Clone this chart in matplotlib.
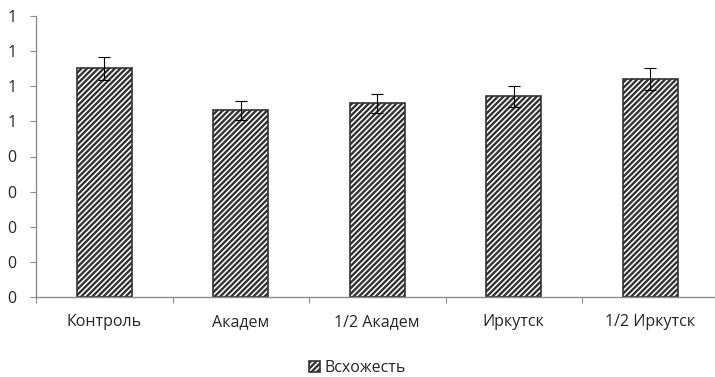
import numpy as np
import matplotlib
matplotlib.use("Agg")
import matplotlib.pyplot as plt

categories = ["Контроль", "Академ", "1/2 Академ", "Иркутск", "1/2 Иркутск"]
values = [0.651, 0.531, 0.551, 0.571, 0.621]
errors = [0.033, 0.027, 0.028, 0.029, 0.031]
yticks = [0.0, 0.1, 0.2, 0.3, 0.4, 0.5, 0.6, 0.7, 0.8]
ytick_labels = ["0", "0", "0", "0", "0", "1", "1", "1", "1"]
series_name = "Всхожесть"

plt.rcParams["font.family"] = ["Open Sans", "DejaVu Sans"]
plt.rcParams["hatch.linewidth"] = 1.7
plt.rcParams["hatch.color"] = "black"

axis_col = "#8c8c8c"
text_col = "#262626"
fs = 11.5

fig = plt.figure(figsize=(7.15, 3.77), dpi=100)
# axes: left 36px, right ~718px (runs off the edge), top 16px, bottom 297px
ax = fig.add_axes([36 / 715, 1 - 297 / 377, 682.5 / 715, 281 / 377])

x = np.arange(len(categories))
ax.bar(x, values, width=0.4, color="white", edgecolor="#333333",
       linewidth=1.2, hatch="//////", label=series_name, zorder=2)
ax.errorbar(x, values, yerr=errors, fmt="none", ecolor="black",
            elinewidth=0.8, capsize=4, capthick=0.8, zorder=3)

ax.set_xlim(-0.5, len(categories) - 0.5)
ax.set_ylim(0, 0.8)

ax.set_yticks(yticks)
ax.set_yticklabels(ytick_labels)

# category ticks sit on the boundaries, labels in the middle
ax.set_xticks(np.arange(len(categories) + 1) - 0.5)
ax.set_xticklabels([])
ax.set_xticks(x, minor=True)
ax.set_xticklabels(categories, minor=True)
ax.tick_params(axis="x", which="major", length=4, color=axis_col, direction="out")
ax.tick_params(axis="x", which="minor", length=0, pad=12, labelsize=fs, labelcolor=text_col)
ax.tick_params(axis="y", length=4, color=axis_col, pad=10, labelsize=fs, labelcolor=text_col)

for s in ["top", "right"]:
    ax.spines[s].set_visible(False)
for s in ["left", "bottom"]:
    ax.spines[s].set_color(axis_col)
    ax.spines[s].set_linewidth(1.0)

fig.legend(loc="center", bbox_to_anchor=(0.5, 1 - 368 / 377), frameon=False,
           fontsize=fs, handlelength=0.7, handleheight=0.7, handletextpad=0.3,
           labelcolor=text_col)

fig.savefig("out.png", dpi=100)
